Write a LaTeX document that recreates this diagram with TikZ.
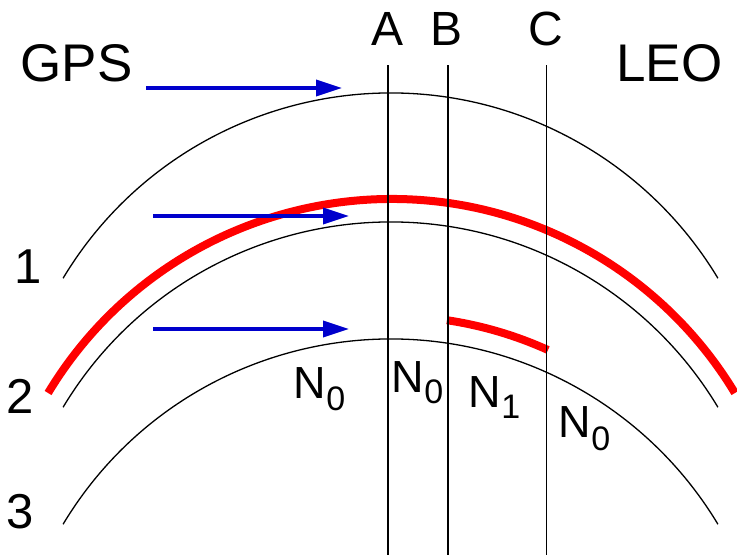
\documentclass[tikz,border=0pt]{standalone}
\usepackage{fontspec}
\setmainfont{Liberation Sans}
\usetikzlibrary{arrows.meta}
\definecolor{rayblue}{RGB}{0,0,204}
\definecolor{layerred}{RGB}{255,0,0}
\newcommand\Nlab[2]{N\raisebox{-#2pt}{\fontsize{34}{34}\selectfont #1}}
\begin{document}
\begin{tikzpicture}[x=1pt,y=1pt,
  layer/.style={line width=1.3pt, black},
  cutline/.style={line width=1.4pt, black},
  ray/.style={line width=3.5pt, rayblue, -{Triangle[length=26pt,width=16pt]}},
  redlayer/.style={line width=8pt, layerred},
  big/.style={inner sep=0pt, anchor=base west, font=\fontsize{53}{53}\selectfont},
  mid/.style={inner sep=0pt, anchor=base, font=\fontsize{48}{48}\selectfont},
  num/.style={inner sep=0pt, anchor=base west, font=\fontsize{49}{49}\selectfont},
  lab/.style={inner sep=0pt, anchor=base west, font=\fontsize{45}{45}\selectfont}]
\useasboundingbox (0,0) rectangle (737,-555);

% shells
\draw[layer] (390.5,-475) ++(149:382) arc[start angle=149, end angle=31, radius=382];
\draw[layer] (390.5,-604) ++(149:382) arc[start angle=149, end angle=31, radius=382];
\draw[layer] (390.5,-721) ++(149:382) arc[start angle=149, end angle=31, radius=382];

% red layers
\draw[redlayer] (391.5,-600) ++(148.92:401) arc[start angle=148.92, end angle=31.08, radius=401];
\draw[redlayer] (390.5,-698) ++(81.5:382) arc[start angle=81.5, end angle=65.65, radius=382];

% vertical cuts
\coordinate (Atop) at (388,-65);  \coordinate (Abot) at (388,-555);
\coordinate (Btop) at (448,-65);  \coordinate (Bbot) at (448,-555);
\coordinate (Ctop) at (546.5,-65);\coordinate (Cbot) at (546.5,-555);
\draw[cutline] (Atop) -- (Abot);
\draw[cutline] (Btop) -- (Bbot);
\draw[cutline] (Ctop) -- (Cbot);

% rays
\coordinate (r1s) at (146,-88);  \coordinate (r1e) at (342,-88);
\coordinate (r2s) at (153,-216); \coordinate (r2e) at (349,-216);
\coordinate (r3s) at (153,-329); \coordinate (r3e) at (349,-329);
\draw[ray] (r1s) -- (r1e);
\draw[ray] (r2s) -- (r2e);
\draw[ray] (r3s) -- (r3e);

% labels
\node[big] (gps) at (20.5,-81) {GPS};
\node[big] (leo) at (616,-81) {LEO};
\node[mid] (la) at (388,-45) {A};
\node[mid] (lb) at (446.5,-45) {B};
\node[mid] (lc) at (545.5,-45) {C};
\node[num] (n1) at (14,-283) {1};
\node[num] (n2) at (6.5,-413) {2};
\node[num] (n3) at (6.5,-528) {3};
\node[lab] (s1) at (293.6,-398) {\Nlab{0}{12}};
\node[lab] (s2) at (391.6,-392) {\Nlab{0}{11}};
\node[lab] (s3) at (468.6,-407) {\Nlab{1}{11}};
\node[lab] (s4) at (558.6,-437) {\Nlab{0}{13}};
\end{tikzpicture}
\end{document}
